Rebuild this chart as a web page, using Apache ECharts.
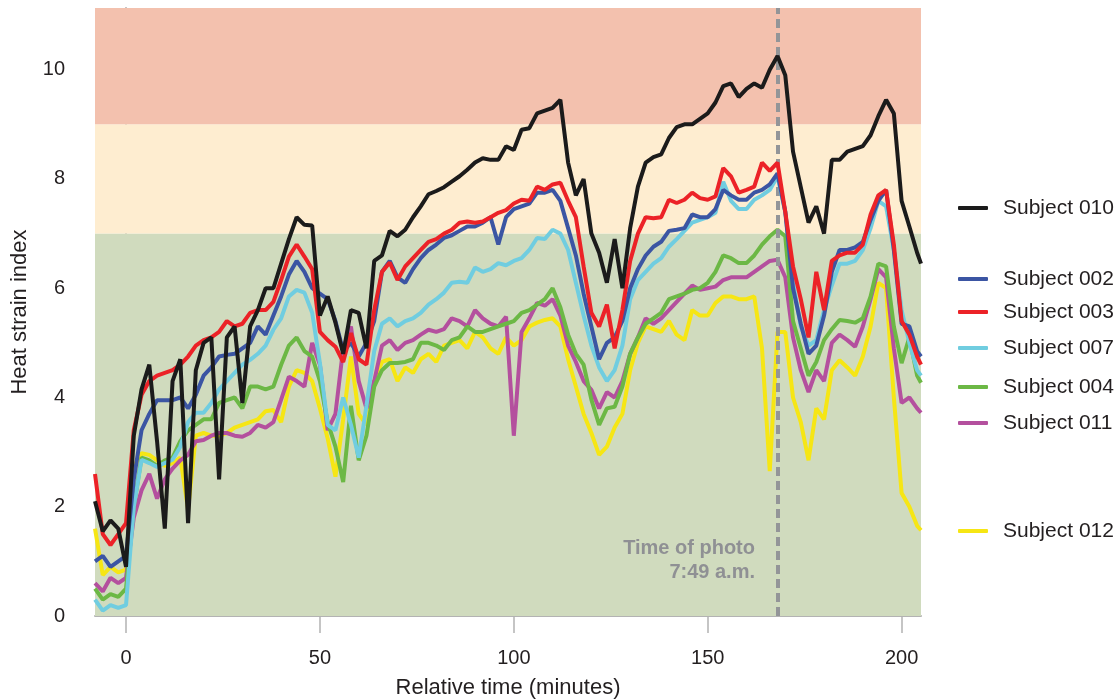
<!DOCTYPE html>
<html>
<head>
<meta charset="utf-8">
<title>Heat strain index</title>
<script src="https://cdn.jsdelivr.net/npm/echarts@6/dist/echarts.min.js"></script>
<style>
  html, body { margin: 0; padding: 0; background: #fff; }
  #chart { width: 1120px; height: 700px; }
</style>
</head>
<body>
<div id="chart"></div>
<script>
// minutes relative to start, one reading every 2 minutes
const minutes = [
  -8, -6, -4, -2, 0, 2, 4, 6, 8, 10,
  12, 14, 16, 18, 20, 22, 24, 26, 28, 30,
  32, 34, 36, 38, 40, 42, 44, 46, 48, 50,
  52, 54, 56, 58, 60, 62, 64, 66, 68, 70,
  72, 74, 76, 78, 80, 82, 84, 86, 88, 90,
  92, 94, 96, 98, 100, 102, 104, 106, 108, 110,
  112, 114, 116, 118, 120, 122, 124, 126, 128, 130,
  132, 134, 136, 138, 140, 142, 144, 146, 148, 150,
  152, 154, 156, 158, 160, 162, 164, 166, 168, 170,
  172, 174, 176, 178, 180, 182, 184, 186, 188, 190,
  192, 194, 196, 198, 200, 202, 204, 205
];

// heat strain index per subject
const subject010 = [
  2.1, 1.55, 1.75, 1.6, 0.9, 3.3, 4.15, 4.6, 3.2, 1.6,
  4.3, 4.7, 1.7, 4.5, 5.0, 5.1, 2.5, 5.1, 5.3, 3.9,
  5.3, 5.6, 6.0, 6.0, 6.45, 6.9, 7.3, 7.16, 7.15, 5.5,
  5.85, 5.37, 4.8, 5.6, 5.55, 4.9, 6.5, 6.6, 7.05, 6.95,
  7.07, 7.3, 7.5, 7.72, 7.78, 7.85, 7.95, 8.05, 8.17, 8.3,
  8.38, 8.35, 8.35, 8.6, 8.53, 8.9, 8.93, 9.2, 9.25, 9.3,
  9.45, 8.3, 7.7, 8.0, 7.0, 6.65, 6.1, 6.9, 6.0, 7.1,
  7.86, 8.3, 8.4, 8.45, 8.75, 8.95, 9.0, 9.0, 9.1, 9.2,
  9.4, 9.7, 9.75, 9.5, 9.65, 9.75, 9.67, 10.0, 10.25, 9.9,
  8.5, 7.85, 7.2, 7.5, 7.0, 8.35, 8.35, 8.5, 8.55, 8.6,
  8.8, 9.15, 9.45, 9.2, 7.6, 7.13, 6.65, 6.45
];
const subject002 = [
  1.0, 1.1, 0.9, 1.0, 1.1, 2.5, 3.4, 3.7, 3.95, 3.95,
  3.95, 4.0, 3.8, 4.05, 4.4, 4.55, 4.75, 4.78, 4.8, 4.9,
  5.0, 5.3, 5.15, 5.5, 5.85, 6.25, 6.5, 6.3, 6.0, 5.9,
  5.8, 5.4, 4.85, 5.0, 4.75, 5.0, 5.4, 6.3, 6.5, 6.2,
  6.1, 6.35, 6.55, 6.7, 6.8, 6.92, 6.97, 7.05, 7.13, 7.13,
  7.2, 7.3, 6.8, 7.3, 7.45, 7.5, 7.55, 7.75, 7.75, 7.8,
  7.6, 7.1, 6.6, 5.9, 5.3, 4.7, 5.0, 5.1, 5.4, 6.0,
  6.35, 6.6, 6.76, 6.85, 7.05, 7.07, 7.1, 7.35, 7.3, 7.3,
  7.45, 7.8, 7.7, 7.62, 7.62, 7.75, 7.8, 7.9, 8.1, 7.4,
  6.0, 5.35, 4.8, 4.95, 5.5, 6.3, 6.7, 6.7, 6.75, 6.85,
  7.25, 7.6, 7.8, 6.7, 5.35, 5.3, 4.85, 4.75
];
const subject003 = [
  2.6, 1.5, 1.3, 1.5, 1.7, 3.4, 4.05, 4.3, 4.4, 4.45,
  4.5, 4.6, 4.75, 4.95, 5.05, 5.1, 5.2, 5.4, 5.3, 5.35,
  5.55, 5.6, 5.6, 5.75, 6.15, 6.58, 6.8, 6.58, 6.35, 5.2,
  5.05, 4.93, 4.65, 5.18, 4.7, 4.6, 5.6, 6.3, 6.47, 6.15,
  6.4, 6.55, 6.7, 6.85, 6.9, 7.0, 7.07, 7.2, 7.22, 7.2,
  7.22, 7.3, 7.38, 7.43, 7.55, 7.62, 7.6, 7.86, 7.8, 7.9,
  7.93, 7.6, 7.3, 6.4, 5.55, 5.3, 5.7, 4.9, 5.6, 6.5,
  7.0, 7.3, 7.28, 7.3, 7.62, 7.56, 7.62, 7.75, 7.65, 7.62,
  7.68, 8.2, 8.05, 7.75, 7.8, 7.86, 8.3, 8.15, 8.3, 7.4,
  6.4, 5.8, 5.1, 6.3, 5.6, 6.5, 6.6, 6.65, 6.65, 6.8,
  7.35, 7.7, 7.8, 6.8, 5.4, 5.15, 4.75, 4.6
];
const subject007 = [
  0.3, 0.1, 0.2, 0.15, 0.2, 2.0, 2.86, 2.8, 2.73, 2.8,
  2.86, 3.1, 3.55, 3.72, 3.72, 3.9, 4.15, 4.3, 4.45, 4.6,
  4.69, 4.8, 4.95, 5.24, 5.45, 5.85, 5.97, 5.92, 5.55, 4.63,
  3.5, 3.4, 4.0, 3.5, 2.9, 3.85, 4.85, 5.35, 5.45, 5.3,
  5.4, 5.45, 5.55, 5.7, 5.8, 5.92, 6.1, 6.12, 6.1, 6.38,
  6.3, 6.35, 6.46, 6.42, 6.5, 6.55, 6.7, 6.92, 6.9, 7.07,
  7.0, 6.7, 6.1, 5.5, 4.95, 4.55, 4.3, 4.5, 4.95, 5.8,
  6.15, 6.3, 6.45, 6.55, 6.76, 6.9, 7.05, 7.2, 7.25, 7.3,
  7.38, 7.95, 7.6, 7.45, 7.45, 7.62, 7.7, 7.8, 8.05, 7.4,
  6.1, 5.3, 4.95, 5.05, 5.6, 6.05, 6.45, 6.45, 6.5, 6.7,
  7.1, 7.6, 7.5, 6.7, 5.6, 5.0, 4.5, 4.4
];
const subject004 = [
  0.5, 0.3, 0.4, 0.35, 0.5, 2.0, 2.9, 2.85, 2.75, 2.85,
  2.9, 3.2, 3.4, 3.5, 3.6, 3.6, 3.9, 3.95, 4.0, 3.8,
  4.2, 4.2, 4.15, 4.2, 4.6, 4.95, 5.1, 4.85, 4.75, 4.3,
  3.55, 3.1, 2.45, 3.85, 2.85, 3.3, 4.2, 4.5, 4.63, 4.63,
  4.65, 4.7, 5.0, 5.0, 4.95, 4.87, 5.05, 5.1, 5.3, 5.2,
  5.2, 5.25, 5.3, 5.35, 5.4, 5.55, 5.6, 5.7, 5.8, 6.0,
  5.65, 5.15, 4.8, 4.6, 3.96, 3.5, 3.8, 3.83, 4.2, 4.8,
  5.1, 5.35, 5.45, 5.55, 5.8, 5.85, 5.9, 5.97, 6.0, 6.1,
  6.3, 6.6, 6.55, 6.46, 6.46, 6.6, 6.8, 6.95, 7.07, 6.95,
  5.4, 4.9, 4.4, 4.65, 5.05, 5.25, 5.42, 5.4, 5.37, 5.45,
  5.85, 6.45, 6.4, 5.3, 4.63, 5.1, 4.4, 4.27
];
const subject011 = [
  0.6, 0.45, 0.7, 0.6, 0.7, 1.8, 2.3, 2.6, 2.15, 2.5,
  2.7, 2.85, 2.95, 3.2, 3.22, 3.3, 3.35, 3.35, 3.3, 3.28,
  3.35, 3.5, 3.45, 3.55, 3.96, 4.38, 4.3, 4.2, 5.0, 4.6,
  3.4, 3.7, 4.9, 5.3, 4.3, 3.8, 4.3, 4.95, 5.05, 4.87,
  5.0, 5.05, 5.15, 5.24, 5.2, 5.25, 5.45, 5.4, 5.3, 5.6,
  5.45, 5.35, 5.3, 5.48, 3.3, 5.2, 5.45, 5.73, 5.68, 5.8,
  5.5, 4.95, 4.65, 4.3, 4.14, 3.8, 4.1, 4.0, 4.3, 4.8,
  5.1, 5.45, 5.35, 5.45, 5.6, 5.75, 5.9, 6.05, 5.97, 6.0,
  6.03, 6.15, 6.2, 6.2, 6.2, 6.3, 6.4, 6.5, 6.52, 6.2,
  5.1, 4.5, 4.1, 4.5, 4.3, 5.0, 5.15, 5.05, 4.93, 5.3,
  5.8, 6.35, 6.2, 4.9, 3.9, 4.0, 3.8, 3.72
];
const subject012 = [
  1.6, 0.75, 0.9, 0.8, 0.85, 2.73, 2.98, 2.95, 2.85, 2.75,
  2.8, 2.9, 1.95, 3.3, 3.35, 3.3, 3.3, 3.35, 3.45, 3.5,
  3.55, 3.6, 3.75, 3.77, 3.55, 4.2, 4.5, 4.45, 4.3, 3.8,
  3.25, 2.55, 3.6, 4.75, 3.7, 3.5, 4.3, 4.65, 4.7, 4.3,
  4.55, 4.45, 4.7, 4.8, 4.65, 4.95, 5.0, 5.05, 4.9, 5.2,
  5.1, 4.9, 4.8, 5.1, 4.95, 5.05, 5.3, 5.37, 5.42, 5.45,
  5.3, 4.7, 4.2, 3.7, 3.35, 2.95, 3.1, 3.45, 3.7, 4.5,
  5.0, 5.3, 5.25, 5.2, 5.4, 5.15, 5.05, 5.6, 5.5, 5.5,
  5.73, 5.85, 5.85, 5.8, 5.8, 5.85, 4.9, 2.65, 5.2, 5.2,
  4.0, 3.55, 2.85, 3.8, 3.6, 4.5, 4.68, 4.55, 4.4, 4.75,
  5.3, 6.1, 6.0, 4.0, 2.25, 2.0, 1.65, 1.57
];

const subjectNames = ['Subject 010', 'Subject 002', 'Subject 003', 'Subject 007', 'Subject 004', 'Subject 011', 'Subject 012'];
const subjectValues = [subject010, subject002, subject003, subject007, subject004, subject011, subject012];
const subjectColors = ['#1b1b1b', '#3b55a3', '#ec2227', '#70cde0', '#6cb845', '#b4509e', '#f6e614'];
const legendCenters = [208, 279, 312, 348, 387, 423, 531];

// risk zones of the index
const zoneBreaks = [0, 7, 9, 11.13];
const zoneColors = ['#d0dbbe', '#feedd0', '#f3c1ae'];

const xTicks = [0, 50, 100, 150, 200];
const yTicks = [0, 2, 4, 6, 8, 10];
const photoMinute = 168;
const photoNote = ['Time of photo', '7:49 a.m.'];

const font = '"Liberation Sans", Arial, sans-serif';
const textColor = '#231f20';
const axisGray = '#b3b3b3';
const noteGray = '#8f9094';

const chart = echarts.init(document.getElementById('chart'));

// draw order: yellow at the bottom, black on top
const drawOrder = [6, 5, 4, 3, 1, 2, 0];
const series = drawOrder.map(function (k, n) {
  const s = {
    name: subjectNames[k],
    type: 'line',
    data: minutes.map(function (t, i) { return [t, subjectValues[k][i]]; }),
    showSymbol: false,
    symbol: 'none',
    color: subjectColors[k],
    lineStyle: { color: subjectColors[k], width: 4 },
    emphasis: { disabled: true },
    clip: true,
    z: 2 + n
  };
  if (n === 0) {
    s.markArea = {
      silent: true,
      data: zoneColors.map(function (c, j) {
        return [{ yAxis: zoneBreaks[j], itemStyle: { color: c } }, { yAxis: zoneBreaks[j + 1] }];
      })
    };
  }
  if (k === 0) {
    s.markLine = {
      silent: true,
      symbol: ['none', 'none'],
      label: { show: false },
      lineStyle: { color: '#939598', width: 4, type: [9, 5] },
      data: [{ xAxis: photoMinute }]
    };
  }
  return s;
});

const legends = subjectNames.map(function (name, k) {
  return {
    data: [name],
    left: 958,
    top: legendCenters[k] - 11,
    padding: 0,
    icon: 'roundRect',
    itemWidth: 30,
    itemHeight: 4,
    selectedMode: false,
    textStyle: { fontFamily: font, fontSize: 21, color: textColor, lineHeight: 22, padding: [0, 0, 0, 10] }
  };
});

chart.setOption({
  animation: false,
  textStyle: { fontFamily: font },
  grid: { left: 95, right: 199, top: 8, bottom: 84, containLabel: false, outerBoundsMode: 'none' },
  legend: legends,
  xAxis: {
    type: 'value',
    min: -8,
    max: 205,
    name: 'Relative time (minutes)',
    nameLocation: 'middle',
    nameGap: 61,
    nameTextStyle: { fontSize: 22, color: textColor, fontFamily: font },
    axisLine: { show: true, lineStyle: { color: axisGray, width: 2 } },
    axisTick: { show: true, customValues: xTicks, length: 17, lineStyle: { color: axisGray, width: 1.5 } },
    axisLabel: { customValues: xTicks, margin: 32, fontSize: 20, color: textColor, fontFamily: font },
    splitLine: { show: false }
  },
  yAxis: {
    type: 'value',
    min: 0,
    max: zoneBreaks[zoneBreaks.length - 1],
    name: 'Heat strain index',
    nameLocation: 'middle',
    nameGap: 64,
    nameTextStyle: { fontSize: 22, color: textColor, fontFamily: font },
    axisLine: { show: true, lineStyle: { color: axisGray, width: 2 } },
    axisTick: { show: true, customValues: yTicks, length: 20, lineStyle: { color: axisGray, width: 1.5 } },
    axisLabel: { customValues: yTicks, margin: 30, fontSize: 20, color: textColor, fontFamily: font },
    splitLine: { show: false }
  },
  graphic: photoNote.map(function (line, i) {
    return {
      type: 'text',
      x: 755,
      y: 548 + i * 24,
      silent: true,
      z: 100,
      style: {
        text: line,
        textAlign: 'right',
        textVerticalAlign: 'middle',
        fill: noteGray,
        font: 'bold 20px ' + font
      }
    };
  }),
  series: series
});
</script>
</body>
</html>
